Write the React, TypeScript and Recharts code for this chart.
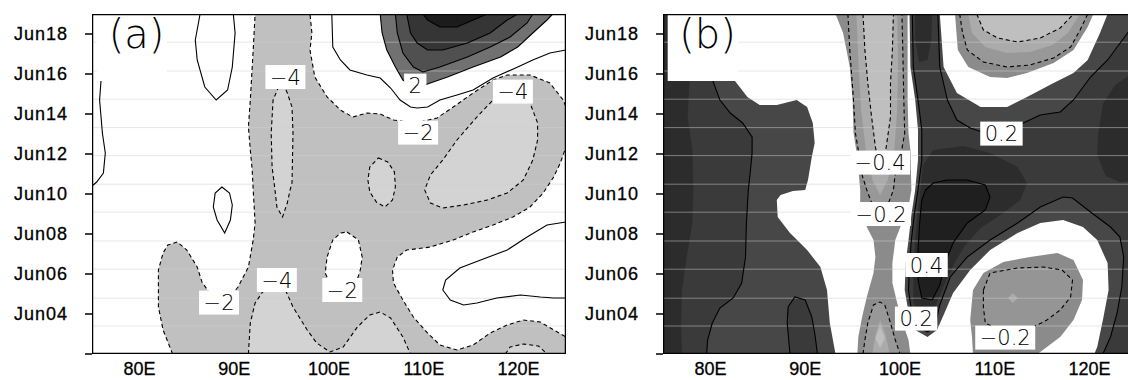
'use client';

import React from 'react';
import { ScatterChart, Scatter, XAxis, YAxis } from 'recharts';

type Pt = [number, number];

interface Fill { pts: Pt[]; color: string }
interface Stroke { pts: Pt[]; dashed?: boolean; closed?: boolean }
interface Tag { lon: number; day: number; text: string }

const lonTicks = [80, 90, 100, 110, 120];
const lonLabels = ['80E', '90E', '100E', '110E', '120E'];
const dayTicks = [2, 4, 6, 8, 10, 12, 14, 16, 18];
const dayLabels = ['', 'Jun04', 'Jun06', 'Jun08', 'Jun10', 'Jun12', 'Jun14', 'Jun16', 'Jun18'];

// faint horizontal banding that runs through both panels
const scanDays = [17.59, 16.15, 14.74, 13.32, 11.92, 10.49, 9.09, 7.65, 6.24, 4.79, 3.4];

const plotFrame: Pt[] = [[75, 2], [125, 2], [125, 19], [75, 19]];
const tagBox: Pt[] = [[75.5, 15.65], [82.9, 15.65], [82.9, 19], [75.5, 19]];
const tagSpot: Pt = [79.7, 17.95];

// ---------- panel (a) ----------
const aNeg2: Pt[] = [[83.5,2],[82.5,3.2],[82.0,4.35],[82.0,6.2],[82.5,7.05],[83.0,7.45],[84.0,7.6],[85.0,7.2],[86.1,6.35],[86.6,5.6],[87.7,4.85],[88.7,4.7],[89.8,5.0],[90.4,5.35],[90.9,5.8],[91.5,6.35],[92.0,7.7],[92.2,8.55],[92.0,10.2],[91.9,11.2],[91.7,12.2],[91.5,13.35],[91.7,14.7],[92.0,17.2],[92.2,19],[98.0,19],[98.2,18.05],[98.0,17.2],[98.5,15.85],[99.8,14.85],[101.2,14.2],[102.5,13.85],[104.0,14.05],[105.4,14.0],[106.8,13.7],[109.1,13.55],[111.4,13.8],[113.1,14.35],[115.2,15.05],[117.3,15.7],[118.8,15.95],[121.2,15.95],[123.3,15.55],[124.7,14.7],[125,14.35],[125,12.35],[124.4,11.55],[123.7,10.85],[122.6,10.05],[121.2,9.35],[119.4,8.85],[117.3,8.45],[115.2,8.1],[113.1,7.7],[110.7,7.35],[108.2,7.2],[107.2,6.85],[106.7,6.2],[106.8,5.55],[107.8,4.7],[108.9,3.85],[110.4,3.05],[111.7,2.45],[113.5,2.2],[115.2,2.45],[117.0,3.05],[118.8,3.45],[120.5,3.7],[122.3,3.6],[123.7,3.2],[125,2.85],[125,2]];
const aHole: Pt[] = [[101.9,8.1],[103.1,7.7],[103.5,6.85],[103.3,6.2],[102.8,5.45],[101.5,5.1],[100.3,5.35],[99.6,6.05],[99.8,6.85],[100.4,7.7],[101.2,8.05]];
const aNeg4Band: Pt[] = [[95.0,15.7],[94.1,14.7],[93.9,13.05],[94.0,11.35],[94.3,10.2],[94.5,9.35],[95.1,8.85],[95.6,9.55],[95.9,10.2],[96.1,10.55],[96.2,13.05],[96.1,14.35],[95.6,15.05]];
const aNeg4East: Pt[] = [[119.6,15.45],[117.3,14.7],[115.6,13.85],[113.5,12.7],[112.0,11.7],[110.7,10.95],[110.1,10.2],[110.7,9.55],[112.0,9.3],[114.2,9.45],[116.7,9.7],[118.8,10.05],[120.5,10.7],[121.5,11.7],[122.0,12.7],[122.0,13.55],[121.2,14.55]];
const aNeg4Small: Pt[] = [[105.2,11.8],[106.2,11.6],[106.9,11.1],[107.0,10.35],[106.7,9.7],[105.9,9.35],[105.0,9.6],[104.3,10.1],[104.1,10.7],[104.3,11.35]];
const aNeg4South: Pt[] = [[91.5,2],[91.7,3.55],[92.2,4.55],[93.0,5.1],[94.3,5.45],[95.4,5.2],[96.2,4.35],[97.7,3.2],[98.7,2.55],[100.1,2.1],[101.5,2.35],[103.0,3.35],[104.3,3.95],[105.4,4.1],[106.5,3.8],[107.8,2.85],[108.6,2]];
const aNeg4Edge: Pt[] = [[118.6,2],[119.1,2.35],[120.5,2.5],[122.1,2.4],[123.0,2]];
const aPos2: Pt[] = [[105.4,19],[105.6,18.05],[106.1,17.2],[107.0,16.35],[107.8,15.7],[108.6,15.45],[110.1,15.45],[112.5,15.85],[115.2,16.35],[118.1,16.85],[119.9,17.35],[121.5,18.05],[123.0,18.7],[123.6,19]];
const aPos4: Pt[] = [[107.0,19],[107.2,18.05],[107.8,17.05],[108.9,16.35],[109.9,16.1],[111.7,16.35],[114.6,16.85],[117.0,17.35],[119.1,17.85],[120.9,18.55],[121.5,19]];
const aPos6: Pt[] = [[108.2,19],[108.6,18.05],[109.3,17.55],[110.4,17.2],[112.0,17.2],[114.6,17.55],[117.0,18.05],[118.8,18.7],[119.9,19]];
const aPos8: Pt[] = [[109.9,19],[110.4,18.7],[111.7,18.35],[113.5,18.35],[115.2,18.7],[116.7,19]];
const aZeroWest: Pt[] = [[76.1,16.6],[75.8,14.7],[76.1,13.05],[76.4,12.05],[76.2,11.05],[75.5,10.6],[75,10.4]];
const aZeroLens: Pt[] = [[86.4,19],[85.9,17.7],[86.1,16.7],[86.9,15.35],[88.1,14.7],[89.3,15.2],[89.8,16.35],[90.1,18.05],[89.9,19]];
const aZeroDrop: Pt[] = [[88.7,10.35],[89.5,10.05],[89.8,9.45],[89.6,8.7],[89.0,8.05],[88.2,8.7],[87.8,9.35],[88.0,10.05]];
const aZeroNorth: Pt[] = [[100.3,19],[100.4,17.35],[101.2,16.7],[102.2,16.2],[104.0,15.95],[105.4,15.8],[106.5,15.3],[107.5,14.7],[108.6,14.35],[109.3,14.3],[110.4,14.35],[111.7,14.7],[113.5,14.95],[115.2,15.2],[117.3,15.8],[119.9,16.35],[121.5,16.7],[123.3,17.05],[125,17.2]];
const aZeroEast: Pt[] = [[125,8.6],[123.0,8.45],[120.9,7.85],[118.8,7.2],[116.0,6.7],[113.8,6.3],[112.3,5.7],[112.0,5.2],[112.8,4.7],[114.2,4.45],[115.6,4.55],[117.7,4.8],[120.2,4.95],[122.3,4.85],[123.7,4.8],[125,4.8]];
const aLabels: Tag[] = [
  { lon: 95.4, day: 15.85, text: '−4' },
  { lon: 109.1, day: 15.42, text: '2' },
  { lon: 119.4, day: 15.12, text: '−4' },
  { lon: 109.4, day: 13.07, text: '−2' },
  { lon: 88.4, day: 4.57, text: '−2' },
  { lon: 94.5, day: 5.7, text: '−4' },
  { lon: 101.4, day: 5.2, text: '−2' },
];

// ---------- panel (b) ----------
const bWarmWest: Pt[] = [[75,19],[78.1,19],[77.8,15.6],[77.6,13.85],[78.1,12.2],[78.2,10.2],[78.1,8.55],[77.5,6.85],[77.0,5.2],[76.9,3.55],[77.0,2],[75,2]];
const bLineWest: Pt[] = [[80.2,19],[80.3,15.6],[81.0,14.7],[82.1,14.05],[83.4,13.55],[84.4,12.85],[84.4,12.05],[84.2,11.05],[84.0,10.2],[83.8,8.55],[83.7,6.85],[83.3,5.55],[82.4,4.8],[81.0,4.3],[80.2,3.55],[79.7,2.7],[79.6,2]];
const bLineEast: Pt[] = [[101.3,19],[101.4,16.35],[101.9,14.7],[102.3,13.2],[102.3,11.7],[101.9,10.2],[101.5,8.95],[101.2,7.7],[101.0,6.55],[100.9,5.2],[101.2,4.2],[101.9,3.4],[102.9,3.1],[103.7,3.4],[104.2,4.45],[105.3,5.85],[107.1,6.85],[109.5,7.7],[112.4,8.55],[114.8,9.35],[117.2,9.85],[118.2,9.8],[120.1,9.1],[122.2,8.35],[123.2,7.85],[123.6,6.85],[123.4,5.35],[122.9,4.05],[122.2,2.85],[121.4,2]];
const bLineNorth: Pt[] = [[104.0,19],[104.2,16.35],[105.0,14.7],[106.0,13.7],[107.4,13.3],[109.0,13.05],[110.6,13.0],[113.0,13.55],[114.8,13.95],[116.9,14.1],[118.3,14.7],[120.1,15.85],[121.9,16.7],[124.0,18.05],[125,18.6]];
const bWhiteWest: Pt[] = [[82.1,19],[82.6,15.65],[83.9,14.85],[85.2,14.45],[87.0,14.45],[89.1,14.7],[90.2,14.35],[90.8,13.55],[91.0,12.55],[90.7,11.85],[90.3,10.7],[90.0,10.2],[88.7,10.15],[87.4,9.95],[87.0,9.7],[87.1,8.85],[88.4,8.05],[90.2,7.2],[91.6,6.35],[92.3,5.2],[92.6,3.55],[93.2,2],[97.9,2],[97.9,19]];
const bWhiteEast: Pt[] = [[98.5,19],[101.0,19],[101.1,16.35],[101.6,14.7],[101.9,13.2],[101.9,11.7],[101.6,10.2],[101.2,8.95],[100.9,7.7],[100.6,6.55],[100.5,5.2],[100.9,4.1],[101.6,3.2],[102.9,2.85],[103.9,3.2],[104.6,3.95],[105.6,5.05],[107.4,6.2],[109.5,7.2],[112.4,8.05],[114.8,8.55],[117.2,8.7],[119.3,8.35],[120.8,7.7],[121.9,6.55],[122.0,5.2],[121.4,3.7],[120.8,2.35],[120.5,2],[98.5,2]];
const bWhiteNorth: Pt[] = [[104.2,19],[104.6,16.35],[106.0,15.05],[108.5,14.35],[111.3,14.35],[113.4,14.85],[116.2,15.55],[118.3,16.05],[119.8,16.7],[121.1,18.05],[121.9,19]];
const bBand1: Pt[] = [[93.2,19],[94.0,18.05],[94.7,16.35],[95.0,14.7],[95.1,13.05],[95.5,11.85],[95.8,10.2],[95.8,9.55],[96.2,8.95],[96.5,8.35],[97.2,7.7],[97.4,6.85],[97.2,6.05],[96.5,4.85],[96.0,3.85],[95.6,2.85],[95.5,2],[101.1,2],[100.9,2.7],[100.3,3.55],[99.7,4.55],[99.2,5.55],[99.2,6.55],[99.5,7.7],[100.2,8.55],[100.9,9.35],[101.2,10.2],[101.1,12.2],[100.9,13.05],[100.8,14.7],[100.8,17.2],[100.8,19]];
const bBand2: Pt[] = [[94.5,19],[94.7,17.2],[95.1,14.7],[95.3,13.05],[95.6,12.2],[96.0,10.95],[96.5,10.2],[97.1,9.45],[97.9,9.1],[98.7,9.45],[99.3,10.2],[99.5,11.05],[100.0,11.7],[100.5,13.05],[100.4,14.7],[100.3,17.2],[100.2,19]];
const bBand3: Pt[] = [[95.4,19],[95.6,16.7],[95.9,14.2],[96.4,12.2],[97.1,10.7],[97.9,9.95],[98.7,10.7],[99.4,12.2],[99.7,14.2],[99.8,16.7],[99.7,19]];
const bBand4: Pt[] = [[96.1,19],[96.3,17.2],[96.6,15.55],[97.0,13.85],[97.4,12.35],[97.9,11.3],[98.5,12.2],[99.0,13.85],[99.0,15.55],[99.2,17.2],[99.3,19]];
const bFoot2: Pt[] = [[96.1,2],[96.3,2.7],[96.6,3.55],[97.2,4.45],[97.9,4.6],[98.4,4.45],[99.0,3.55],[99.5,2.7],[100.0,2]];
const bFoot3: Pt[] = [[97.1,2],[97.4,2.95],[97.9,3.7],[98.5,2.95],[98.9,2]];
const bFoot4: Pt[] = [[97.9,3.4],[98.4,2.8],[97.9,2.3],[97.4,2.8]];
const bCap1: Pt[] = [[105.8,19],[106.1,17.2],[107.2,16.35],[109.5,15.85],[111.3,15.8],[113.4,16.05],[116.2,16.55],[118.3,17.2],[119.8,18.35],[120.4,19]];
const bCap2: Pt[] = [[106.3,19],[106.6,18.05],[107.1,17.2],[108.8,16.6],[111.3,16.35],[113.7,16.45],[116.2,16.8],[118.0,17.35],[119.0,18.2],[119.8,19]];
const bCap3: Pt[] = [[107.2,19],[107.6,18.05],[109.0,17.35],[111.3,17.05],[113.7,17.1],[116.1,17.45],[117.7,18.05],[119.0,19]];
const bCap4: Pt[] = [[108.1,19],[108.8,18.2],[110.3,17.8],[112.4,17.6],[114.8,17.8],[116.9,18.3],[118.3,19]];
const bPool1: Pt[] = [[107.7,2],[107.6,2.85],[107.4,3.7],[107.7,5.2],[108.8,6.05],[110.9,6.6],[113.7,6.85],[116.6,7.05],[118.3,6.7],[119.3,5.7],[119.2,4.7],[118.3,3.7],[116.9,2.85],[115.5,2.35],[114.5,2]];
const bPool2: Pt[] = [[108.8,5.2],[109.5,6.05],[112.4,6.3],[115.1,6.35],[117.1,6.2],[118.2,5.7],[118.0,4.85],[116.9,4.2],[115.5,3.7],[114.5,3.45],[111.6,2.95],[109.0,3.55],[108.8,4.35]];
const bPool3: Pt[] = [[111.9,5.05],[112.4,4.8],[111.9,4.55],[111.4,4.8]];
const bWarmTop: Pt[] = [[101.6,19],[103.4,19],[103.3,17.7],[102.9,16.7],[102.0,16.6],[101.6,17.7]];
const bWarmCore: Pt[] = [[102.4,11.45],[103.5,12.2],[106.7,12.4],[109.5,12.05],[112.4,11.35],[113.4,10.55],[112.7,9.7],[110.6,8.95],[108.5,8.3],[106.9,7.45],[105.8,6.6],[104.8,5.6],[104.0,4.7],[103.4,3.95],[102.7,3.6],[101.8,3.8],[101.4,4.7],[101.4,6.2],[101.6,7.7],[101.9,9.2],[102.2,10.45]];
const bWarmEdge: Pt[] = [[125,16.2],[122.7,15.45],[121.4,14.5],[120.9,13.0],[120.8,11.95],[121.7,10.9],[123.2,10.6],[125,10.7]];
const bCore: Pt[] = [[102.7,10.2],[103.5,10.55],[105.0,10.7],[107.1,10.7],[109.0,10.45],[109.5,9.85],[109.0,9.2],[107.1,8.55],[105.6,7.55],[104.8,6.6],[104.2,5.45],[103.4,4.7],[102.3,4.8],[101.9,5.7],[101.9,7.2],[102.1,8.7],[102.3,9.7]];
const bKnot: Pt[] = [[88.4,2],[88.1,3.55],[88.2,4.35],[88.9,4.85],[90.0,4.7],[90.7,3.85],[91.0,3.05],[91.3,2]];
const bLabels: Tag[] = [
  { lon: 110.7, day: 13.02, text: '0.2' },
  { lon: 97.9, day: 11.57, text: '−0.4' },
  { lon: 98.0, day: 9.0, text: '−0.2' },
  { lon: 102.8, day: 6.45, text: '0.4' },
  { lon: 101.7, day: 3.77, text: '0.2' },
  { lon: 111.1, day: 2.82, text: '−0.2' },
];

const fillsA: Fill[] = [
  { pts: aNeg2, color: '#c0c0c0' },
  { pts: aNeg4Band, color: '#d3d3d3' },
  { pts: aNeg4East, color: '#d3d3d3' },
  { pts: aNeg4Small, color: '#d3d3d3' },
  { pts: aNeg4South, color: '#d3d3d3' },
  { pts: aNeg4Edge, color: '#d3d3d3' },
  { pts: aHole, color: '#ffffff' },
  { pts: aPos2, color: '#717171' },
  { pts: aPos4, color: '#505050' },
  { pts: aPos6, color: '#353535' },
  { pts: aPos8, color: '#1c1c1c' },
];
const strokesA: Stroke[] = [
  { pts: aNeg2, dashed: true },
  { pts: aNeg4Band, dashed: true, closed: true },
  { pts: aNeg4East, dashed: true, closed: true },
  { pts: aNeg4Small, dashed: true, closed: true },
  { pts: aNeg4South, dashed: true },
  { pts: aNeg4Edge, dashed: true },
  { pts: aHole, dashed: true, closed: true },
  { pts: aPos2 }, { pts: aPos4 }, { pts: aPos6 }, { pts: aPos8 },
  { pts: aZeroWest }, { pts: aZeroLens }, { pts: aZeroDrop, closed: true },
  { pts: aZeroNorth }, { pts: aZeroEast },
];

const fillsB: Fill[] = [
  { pts: plotFrame, color: '#3a3a3a' },
  { pts: bWarmWest, color: '#2c2c2c' },
  { pts: [...bLineWest, [97.9, 2], [97.9, 19]], color: '#474747' },
  { pts: [...bLineEast, [98.5, 2], [98.5, 19]], color: '#474747' },
  { pts: [...bLineNorth, [125, 19]], color: '#474747' },
  { pts: bWhiteWest, color: '#ffffff' },
  { pts: bWhiteEast, color: '#ffffff' },
  { pts: bWhiteNorth, color: '#ffffff' },
  { pts: bBand1, color: '#8b8b8b' },
  { pts: bBand2, color: '#989898' },
  { pts: bBand3, color: '#ababab' },
  { pts: bBand4, color: '#bfbfbf' },
  { pts: bFoot2, color: '#989898' },
  { pts: bFoot3, color: '#ababab' },
  { pts: bFoot4, color: '#bfbfbf' },
  { pts: bCap1, color: '#8b8b8b' },
  { pts: bCap2, color: '#989898' },
  { pts: bCap3, color: '#ababab' },
  { pts: bCap4, color: '#bfbfbf' },
  { pts: bPool1, color: '#8b8b8b' },
  { pts: bPool2, color: '#959595' },
  { pts: bPool3, color: '#ababab' },
  { pts: bWarmTop, color: '#2c2c2c' },
  { pts: bWarmCore, color: '#2c2c2c' },
  { pts: bWarmEdge, color: '#2c2c2c' },
  { pts: bCore, color: '#1f1f1f' },
  { pts: bKnot, color: '#3a3a3a' },
];
const strokesB: Stroke[] = [
  { pts: bLineWest }, { pts: bLineEast }, { pts: bLineNorth },
  { pts: bKnot }, { pts: bCore, closed: true },
  { pts: bBand2, dashed: true }, { pts: bBand4, dashed: true },
  { pts: bFoot2, dashed: true },
  { pts: bCap2, dashed: true }, { pts: bCap4, dashed: true },
  { pts: bPool2, dashed: true, closed: true },
];

const toRows = (pts: Pt[]) => pts.map(([lon, day]) => ({ lon, day }));
const toPath = (points: { x: number; y: number }[], closed?: boolean) =>
  points.map((p, i) => (i ? 'L' : 'M') + p.x.toFixed(1) + ',' + p.y.toFixed(1)).join('') + (closed ? 'Z' : '');
const NoDot = () => <g />;

const axisTick = { fill: '#000', fontSize: 18, fontFamily: "'Liberation Sans', Arial, sans-serif", stroke: '#000', strokeWidth: 0.3 };
const labelFont = 21;
const glyphW: Record<string, number> = { '−': 0.838, '.': 0.318 };

const labelShape = (p: any) => {
  const text: string = p.payload.text;
  const w = [...text].reduce((s, c) => s + (glyphW[c] ?? 0.636), 0) * labelFont + 9;
  return (
    <g>
      <rect x={p.cx - w / 2} y={p.cy - 12} width={w} height={24} fill="#fff" />
      <text x={p.cx} y={p.cy + 7.7} textAnchor="middle" fontSize={labelFont} fontWeight={200}
        fontFamily="'DejaVu Sans', sans-serif" fill="#000">{text}</text>
    </g>
  );
};

const tagShape = (p: any) => (
  <text x={p.cx} y={p.cy + 12.6} textAnchor="middle" fontSize={40} fontWeight={200}
    fontFamily="'DejaVu Sans', sans-serif" fill="#000">{p.payload.text}</text>
);

const fillLayer = (f: Fill, key: string) => (
  <Scatter key={key} data={toRows(f.pts)} shape={NoDot} isAnimationActive={false}
    line={(p: any) => <path d={toPath(p.points, true)} fill={f.color} stroke="none" />} />
);

const strokeLayer = (s: Stroke, key: string) => (
  <Scatter key={key} data={toRows(s.pts)} shape={NoDot} isAnimationActive={false}
    line={(p: any) => (
      <path d={toPath(p.points, s.closed)} fill="none" stroke="#000" strokeWidth={1.1}
        strokeDasharray={s.dashed ? '4 3' : undefined} />
    )} />
);

const scanLayer = (day: number, key: string) => (
  <Scatter key={key} data={toRows([[75, day], [125, day]])} shape={NoDot} isAnimationActive={false}
    line={(p: any) => <path d={toPath(p.points)} stroke="#d0d0d0" strokeOpacity={0.5} strokeWidth={1} fill="none" />} />
);

const renderPanel = (tag: string, fills: Fill[], strokes: Stroke[], labels: Tag[]) => (
  <ScatterChart width={600} height={380} margin={{ top: 14, right: 34, bottom: 0, left: 0 }}>
    <XAxis type="number" dataKey="lon" domain={[75, 125]} ticks={lonTicks} interval={0} allowDataOverflow
      tickFormatter={(v) => lonLabels[lonTicks.indexOf(v)]} axisLine={false} tickLine={false}
      tickSize={0} tickMargin={8} height={26} tick={axisTick} />
    <YAxis type="number" dataKey="day" domain={[2, 19]} ticks={dayTicks} interval={0} allowDataOverflow
      tickFormatter={(v) => dayLabels[dayTicks.indexOf(v)]} axisLine={false}
      tickLine={{ stroke: '#000', strokeWidth: 1.5 }} tickSize={7} tickMargin={17} width={92}
      tick={{ ...axisTick, letterSpacing: 1 }} />
    {fills.map((f, i) => fillLayer(f, 'f' + i))}
    {scanDays.map((d, i) => scanLayer(d, 's' + i))}
    {strokes.map((s, i) => strokeLayer(s, 'l' + i))}
    {fillLayer({ pts: tagBox, color: '#ffffff' }, 'tagbox')}
    <Scatter data={labels} shape={labelShape} isAnimationActive={false} />
    <Scatter data={[{ lon: tagSpot[0], day: tagSpot[1], text: tag }]} shape={tagShape} isAnimationActive={false} />
    <Scatter data={toRows(plotFrame)} shape={NoDot} isAnimationActive={false}
      line={(p: any) => <path d={toPath(p.points, true)} fill="none" stroke="#000" strokeWidth={2.5} />} />
  </ScatterChart>
);

export default function App() {
  return (
    <div style={{ position: 'absolute', left: 0, top: 0, width: 1128, height: 380, overflow: 'hidden', background: '#fff' }}>
      <div style={{ position: 'absolute', left: 0, top: 0 }}>
        {renderPanel('(a)', fillsA, strokesA, aLabels)}
      </div>
      <div style={{ position: 'absolute', left: 571, top: 0 }}>
        {renderPanel('(b)', fillsB, strokesB, bLabels)}
      </div>
    </div>
  );
}
